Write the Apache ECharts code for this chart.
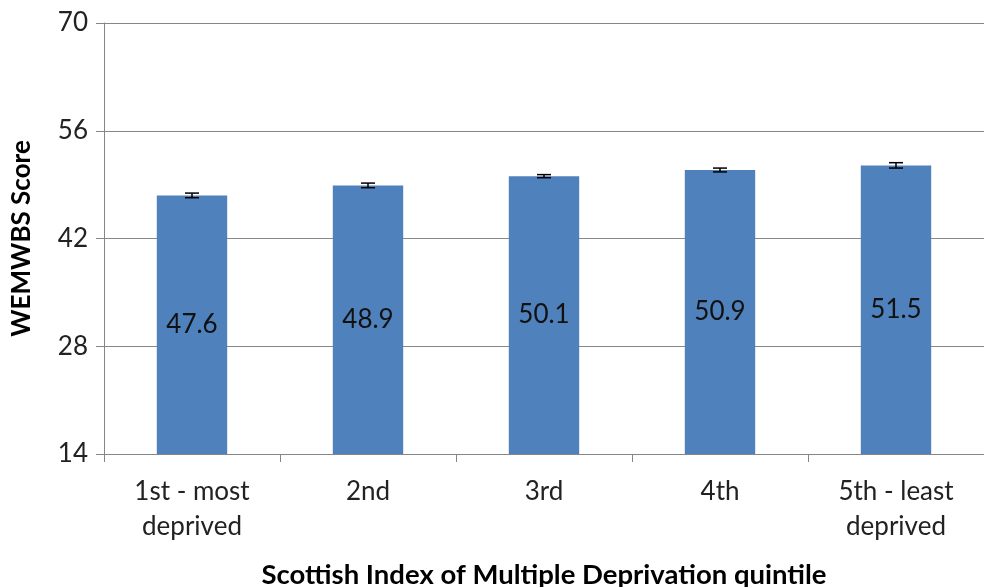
<!DOCTYPE html>
<html><head><meta charset="utf-8">
<script src="https://cdn.jsdelivr.net/npm/echarts@6/dist/echarts.min.js"></script>
<style>html,body{margin:0;padding:0;background:#fff}#c{width:984px;height:587px}</style>
</head><body><div id="c"></div>
<script>
var categories = ['1st - most\ndeprived', '2nd', '3rd', '4th', '5th - least\ndeprived'];
var scores = [47.6, 48.9, 50.1, 50.9, 51.5];
var errors = [0.3, 0.3, 0.2, 0.25, 0.35];
var yTicks = [14, 28, 42, 56, 70];

var font = 'Lato, "Liberation Sans", sans-serif';
var chart = echarts.init(document.getElementById('c'));
chart.setOption({
  animation: false,
  grid: {left: 104, right: 0, top: 23, bottom: 133, containLabel: false, outerBoundsMode: 'none'},
  xAxis: {
    type: 'category', data: categories,
    name: 'Scottish Index of Multiple Deprivation quintile',
    nameLocation: 'middle', nameGap: 107,
    nameTextStyle: {fontFamily: font, fontSize: 27.5, fontWeight: 'bold', color: '#000'},
    axisLine: {lineStyle: {color: '#868686', width: 1}},
    axisTick: {show: true, length: 8, lineStyle: {color: '#868686'}},
    axisLabel: {fontFamily: font, fontSize: 26, color: '#222', lineHeight: 35, margin: 20}
  },
  yAxis: {
    type: 'value', min: yTicks[0], max: yTicks[yTicks.length - 1], interval: 14,
    name: 'WEMWBS Score', nameLocation: 'middle', nameGap: 69,
    nameTextStyle: {fontFamily: font, fontSize: 26, fontWeight: 'bold', color: '#000'},
    axisLine: {show: true, lineStyle: {color: '#868686', width: 1}},
    axisTick: {show: true, length: 8, lineStyle: {color: '#868686'}},
    axisLabel: {fontFamily: font, fontSize: 26, color: '#222', margin: 16},
    splitLine: {lineStyle: {color: '#868686', width: 1}}
  },
  series: [{
    type: 'bar', data: scores, barWidth: '40%',
    itemStyle: {color: '#4f81bd'},
    label: {show: true, position: 'inside', fontFamily: font, fontSize: 26, color: '#111',
      formatter: function (p) { return p.value.toFixed(1); }}
  }, {
    type: 'custom',
    data: scores.map(function (v, i) { return [i, v - errors[i], v + errors[i]]; }),
    renderItem: function (params, api) {
      var lo = api.coord([api.value(0), api.value(1)]);
      var hi = api.coord([api.value(0), api.value(2)]);
      var hw = 7;
      var st = {stroke: '#000', lineWidth: 1.5};
      return {type: 'group', children: [
        {type: 'line', shape: {x1: lo[0], y1: lo[1], x2: hi[0], y2: hi[1]}, style: st},
        {type: 'line', shape: {x1: lo[0] - hw, y1: lo[1], x2: lo[0] + hw, y2: lo[1]}, style: st},
        {type: 'line', shape: {x1: hi[0] - hw, y1: hi[1], x2: hi[0] + hw, y2: hi[1]}, style: st}
      ]};
    },
    z: 10
  }]
});
</script></body></html>
